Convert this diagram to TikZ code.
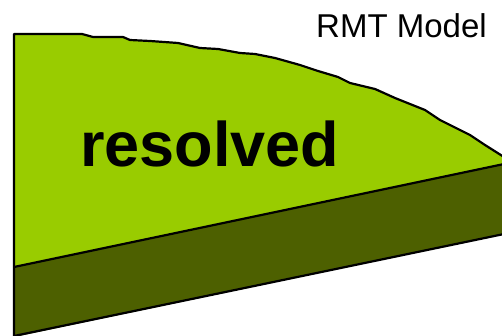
\documentclass[tikz,border=0pt]{standalone}
\usepackage{fontspec}
\setmainfont{Liberation Sans}
\definecolor{lightgreen}{RGB}{153,204,0}
\definecolor{darkolive}{RGB}{77,96,0}
\begin{document}
\begin{tikzpicture}[x=1pt,y=-1pt,
  layer/.style={draw=black,line width=2.2pt,line join=round},
  label/.style={inner sep=0pt,anchor=base west}]
\useasboundingbox (0,0) rectangle (502,336);
\clip (0,0) rectangle (502,336);
% top surface (light green)
\fill[lightgreen] (14,34) -- (82,34) -- (93,37) -- (123,37) -- (130,40) -- (150,41) -- (178,43) -- (200,48) -- (218,49) -- (240,53) -- (255,54) -- (275,58) -- (300,65) -- (318,71) -- (338,77) -- (350,83) -- (375,89) -- (395,98) -- (425,110) -- (440,120) -- (470,135) -- (485,145) -- (504,157) -- (504,164) -- (14,267) -- cycle;
% lower layer (dark olive)
\fill[darkolive] (14,267) -- (504,164) -- (504,234) -- (14,337) -- cycle;
% outlines
\draw[layer] (14,340) -- (14,34) -- (82,34) -- (93,37) -- (123,37) -- (130,40) -- (150,41) -- (178,43) -- (200,48) -- (218,49) -- (240,53) -- (255,54) -- (275,58) -- (300,65) -- (318,71) -- (338,77) -- (350,83) -- (375,89) -- (395,98) -- (425,110) -- (440,120) -- (470,135) -- (485,145) -- (504,157);
\draw[layer] (14,267) -- (504,164);
\draw[layer] (14,336) -- (504,234);
\node[label,font=\fontsize{63}{63}\selectfont\bfseries] (res) at (80,167) {resolved};
\node[label,font=\fontsize{33}{33}\selectfont] (rmt) at (316,38) {RMT Model};
\end{tikzpicture}
\end{document}
